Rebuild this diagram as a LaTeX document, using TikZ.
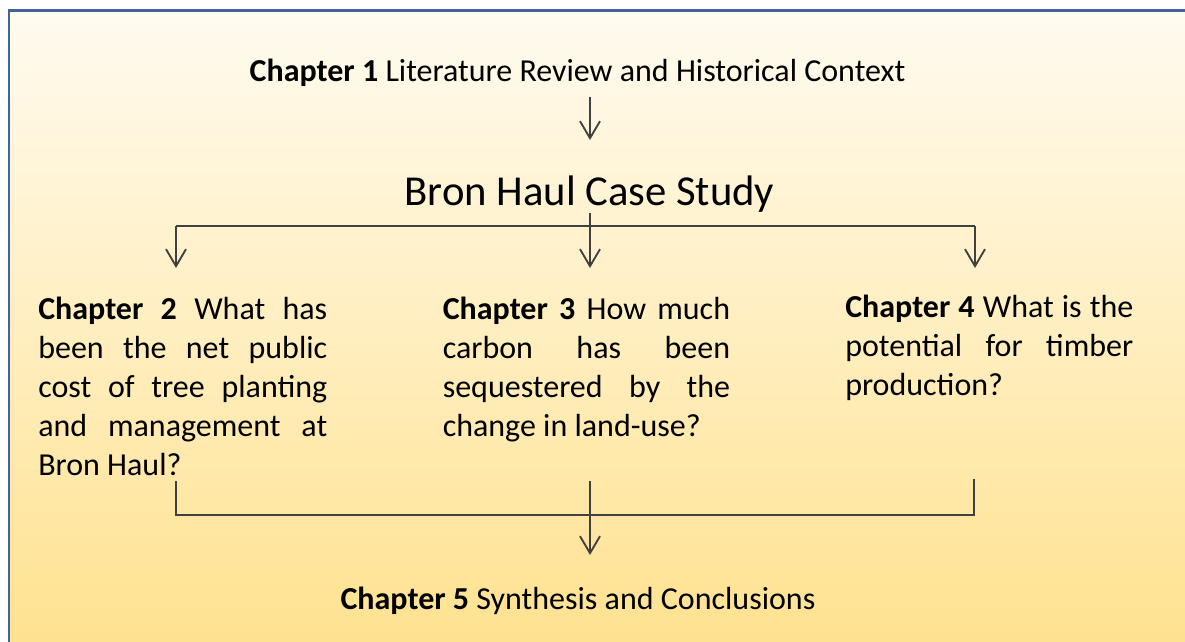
\documentclass[tikz,border=0pt]{standalone}
\usepackage{fontspec}
\setmainfont{Carlito}
\usetikzlibrary{arrows.meta}
\definecolor{linegray}{RGB}{64,64,64}
\definecolor{framecol}{RGB}{66,100,155}
\definecolor{bgtop}{RGB}{255,251,240}
\definecolor{bgbot}{RGB}{255,225,142}
\newcommand\jline[2]{\makebox[#1][s]{\spaceskip=0.226em plus 1fil\relax #2}}
\newcommand\lline[1]{{\spaceskip=0.226em\relax #1}}
\begin{document}
\begin{tikzpicture}[x=0.75pt,y=-0.75pt,
  conn/.style={draw=linegray,line width=1.4pt},
  arr/.style={conn,-{Straight Barb[length=12.75pt,width=15pt]}},
  chap/.style={font=\fontsize{24}{29.25}\selectfont,inner sep=0pt,anchor=base west,align=left},
  head/.style={font=\fontsize{24}{29.25}\selectfont,inner sep=0pt,anchor=base},
  big/.style={font=\fontsize{32}{39}\selectfont,inner sep=0pt,anchor=base},
]
\useasboundingbox (0,0) rectangle (1185,642);
\clip (0,0) rectangle (1185,642);
\fill[white] (0,0) rectangle (1185,642);
\shade[top color=bgtop,bottom color=bgbot,draw=framecol,line width=1.9pt]
  (9,10.5) rectangle (1200,655);

% texts
\node[head] (c1) at (577.5,82) {\textbf{Chapter 1} Literature Review and Historical Context};
\node[big] (bron) at (589.5,205) {Bron Haul Case Study};

\node[chap,text width=216.75pt] (c2) at (38,319.3) {%
\jline{216.75pt}{\textbf{Chapter 2} What has}\\
\jline{216.75pt}{been the net public}\\
\jline{216.75pt}{cost of tree planting}\\
\jline{216.75pt}{and management at}\\
\lline{Bron Haul?}};

\node[chap,text width=215.5pt] (c3) at (442.5,319.3) {%
\jline{215.5pt}{\textbf{Chapter 3} How much}\\
\jline{215.5pt}{carbon has been}\\
\jline{215.5pt}{sequestered by the}\\
\lline{change in land-use?}};

\node[chap,text width=216pt] (c4) at (845,317.5) {%
\jline{216pt}{\textbf{Chapter 4} What is the}\\
\jline{216pt}{potential for timber}\\
\lline{production?}};

\node[head] (c5) at (578,609) {\textbf{Chapter 5} Synthesis and Conclusions};

% top connectors
\coordinate (a1s) at (590,97);
\coordinate (a1e) at (590,140);
\draw[arr] (a1s) -- (a1e);

\coordinate (hl) at (176,226);
\coordinate (hr) at (975,226);
\coordinate (tl) at (176,268);
\coordinate (tm) at (590,268);
\coordinate (tr) at (975,268);
\coordinate (ms) at (590,213);
\draw[conn] (hl) -- (hr);
\draw[arr] (hl) -- (tl);
\draw[arr] (hr) -- (tr);
\draw[arr] (ms) -- (tm);

% bottom connectors
\coordinate (bl) at (176,481);
\coordinate (br) at (974,479);
\coordinate (bm) at (590,481);
\coordinate (jl) at (176,515);
\coordinate (jr) at (974,515);
\coordinate (b5) at (590,555);
\draw[conn] (bl) -- (jl) -- (jr) -- (br);
\draw[arr] (bm) -- (b5);
\end{tikzpicture}
\end{document}
